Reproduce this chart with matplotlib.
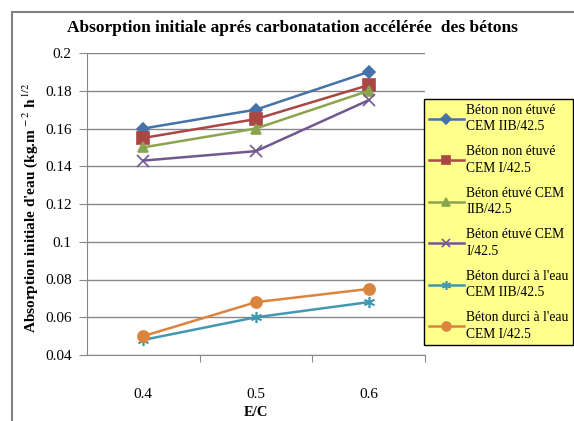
import matplotlib
matplotlib.use('Agg')
import matplotlib.pyplot as plt
from matplotlib.patches import Rectangle

categories = ['0.4', '0.5', '0.6']
labels = ['Béton non étuvé\nCEM IIB/42.5',
          'Béton non étuvé\nCEM I/42.5',
          'Béton étuvé CEM\nIIB/42.5',
          'Béton étuvé CEM\nI/42.5',
          "Béton durci à l'eau\nCEM IIB/42.5",
          "Béton durci à l'eau\nCEM I/42.5"]
non_etuve_iib = [0.160, 0.170, 0.190]
non_etuve_i = [0.155, 0.165, 0.183]
etuve_iib = [0.150, 0.160, 0.180]
etuve_i = [0.143, 0.148, 0.175]
durci_iib = [0.048, 0.060, 0.068]
durci_i = [0.050, 0.068, 0.075]

series = [non_etuve_iib, non_etuve_i, etuve_iib, etuve_i, durci_iib, durci_i]
colors = ['#4572A7', '#AA4643', '#89A54E', '#71588F', '#4198AF', '#DB843D']
markers = ['D', 's', '^', 'x', (6, 2, 0), 'o']
msizes = [6, 8, 7, 8, 8, 8]

plt.rcParams['font.family'] = ['Liberation Serif', 'DejaVu Serif']
plt.rcParams['mathtext.fontset'] = 'stix'

fig = plt.figure(figsize=(5.74, 4.21), dpi=100)
ax = fig.add_axes([87/574, 1 - 355/421, (425 - 87)/574, (355 - 53)/421])

x = range(len(categories))
for vals, lab, c, m, ms in zip(series, labels, colors, markers, msizes):
    ax.plot(x, vals, color=c, marker=m, markersize=ms, lw=1.8, label=lab,
            markeredgewidth=1.2)

ax.set_xlim(-0.5, 2.5)
ax.set_ylim(0.04, 0.2)
ax.set_yticks([0.04, 0.06, 0.08, 0.1, 0.12, 0.14, 0.16, 0.18, 0.2])
ax.set_yticklabels(['0.04', '0.06', '0.08', '0.1', '0.12', '0.14', '0.16', '0.18', '0.2'])
ax.set_xticks([0.5, 1.5, 2.5], minor=False)
ax.set_xticklabels(['', '', ''])
ax.set_xticks(list(x), minor=True)
ax.set_xticklabels(categories, minor=True)
ax.tick_params(axis='x', which='minor', length=0, pad=24, labelsize=11)
ax.tick_params(axis='x', which='major', length=5, color='#888888')
ax.tick_params(axis='y', length=6, color='#888888', labelsize=11, pad=5)
ax.grid(axis='y', color='#888888', lw=1)
for s in ['top', 'right']:
    ax.spines[s].set_visible(False)
ax.spines['left'].set_color('#888888')
ax.spines['bottom'].set_color('#888888')
ax.set_axisbelow(True)

fig.text(0.51, 1 - 28/421, 'Absorption initiale aprés carbonatation accélérée  des bétons',
         ha='center', va='center', fontsize=12.5, fontweight='bold')
fig.text(30/574, 1 - 208/421, "Absorption initiale d'eau (kg.m$^{\\,-2}$ h$^{\\,1/2}$",
         rotation=90, ha='center', va='center', fontsize=11, fontweight='bold')
fig.text(256/574, 1 - 412/421, 'E/C', ha='center', va='center', fontsize=10.5,
         fontweight='bold')

leg = fig.legend(loc='upper left', bbox_to_anchor=(424/574, 1 - 99/421),
                 bbox_transform=fig.transFigure, frameon=True, fancybox=False,
                 fontsize=9.8, labelspacing=0.88, handlelength=2.6, markerscale=0.8,
                 handletextpad=0.15, borderpad=0.35, borderaxespad=0)
for t in leg.get_texts():
    t.set_linespacing(1.35)
leg.get_frame().set_facecolor('#ffff8c')
leg.get_frame().set_edgecolor('black')
leg.get_frame().set_alpha(1)
leg.get_frame().set_linewidth(1.0)

fig.patches.append(Rectangle((12/574, -0.1), 1.2, 1.1 - 12/421, transform=fig.transFigure,
                             fill=False, edgecolor='#808080', lw=1.5, zorder=0))

fig.savefig('out.png', dpi=100)
